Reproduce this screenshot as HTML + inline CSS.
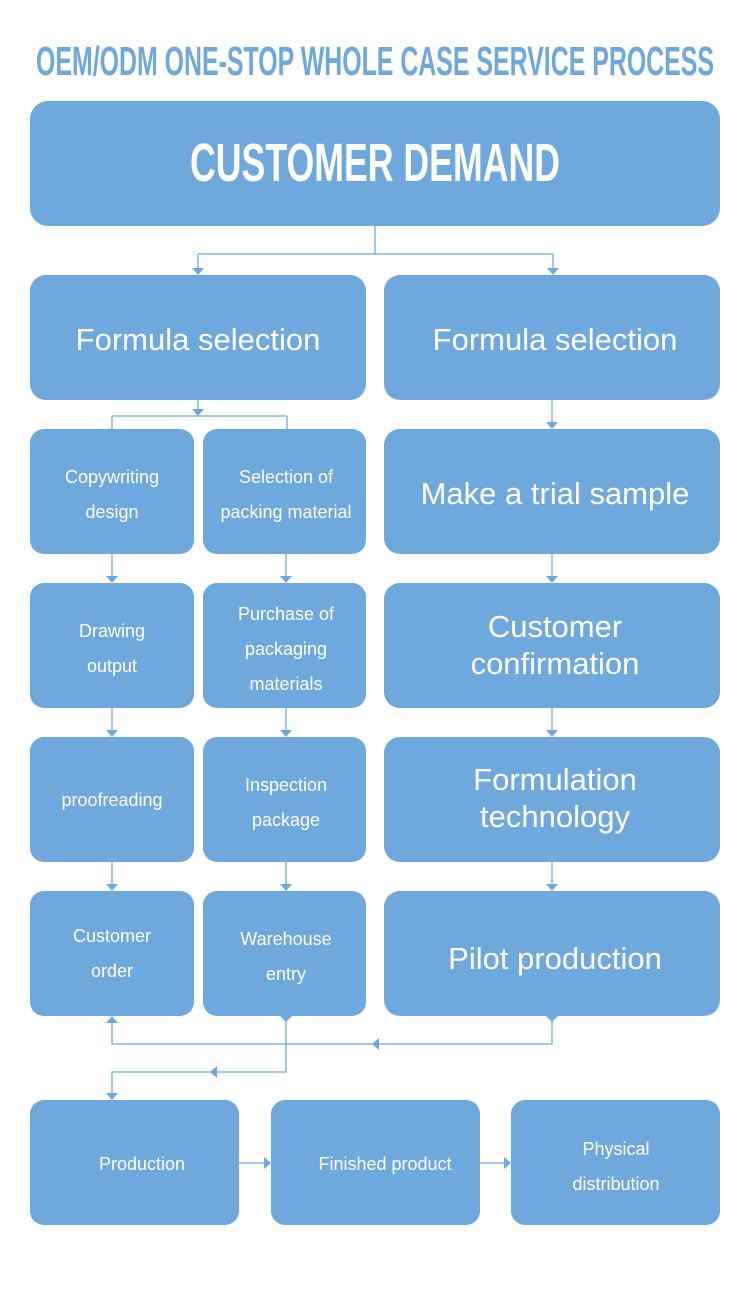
<!DOCTYPE html>
<html><head><meta charset="utf-8"><style>
body{margin:0;background:#fff;}
svg text{fill:#fff;font-family:"Liberation Sans",sans-serif;}
</style></head><body>
<svg width="750" height="1288" viewBox="0 0 750 1288" xmlns="http://www.w3.org/2000/svg">
<rect width="750" height="1288" fill="#fff"/>
<text x="36" y="75" textLength="678" lengthAdjust="spacingAndGlyphs" style="fill:#6fa8dc;font-family:'Liberation Sans Narrow','Liberation Sans',sans-serif;font-weight:bold;font-size:41px">OEM/ODM ONE-STOP WHOLE CASE SERVICE PROCESS</text>
<g fill="#6fa8dc">
<rect x="30" y="101" width="690" height="125" rx="18"/>
<rect x="30" y="275" width="336" height="125" rx="16"/>
<rect x="384" y="275" width="336" height="125" rx="16"/>
<rect x="30" y="429" width="164" height="125" rx="14"/>
<rect x="203" y="429" width="163" height="125" rx="14"/>
<rect x="384" y="429" width="336" height="125" rx="16"/>
<rect x="30" y="583" width="164" height="125" rx="14"/>
<rect x="203" y="583" width="163" height="125" rx="14"/>
<rect x="384" y="583" width="336" height="125" rx="16"/>
<rect x="30" y="737" width="164" height="125" rx="14"/>
<rect x="203" y="737" width="163" height="125" rx="14"/>
<rect x="384" y="737" width="336" height="125" rx="16"/>
<rect x="30" y="891" width="164" height="125" rx="14"/>
<rect x="203" y="891" width="163" height="125" rx="14"/>
<rect x="384" y="891" width="336" height="125" rx="16"/>
<rect x="30" y="1100" width="209" height="125" rx="14"/>
<rect x="271" y="1100" width="209" height="125" rx="14"/>
<rect x="511" y="1100" width="209" height="125" rx="14"/>
</g>
<g stroke="#6fa8dc" stroke-width="1.3" fill="none">
<path d="M375 226V254M198 254H553M198 254V270M553 254V270"/>
<path d="M198 400V412M112 416H287M112 416V429M287 416V429"/>
<path d="M552 400V425M112 554V579M286 554V579M552 554V579M112 708V733M286 708V733M552 708V733M112 862V887M286 862V887M552 862V887"/>
<path d="M552 1016V1044H112V1022M286 1016V1072H112V1095"/>
<path d="M239 1163H266M480 1163H506"/>
</g>
<g fill="#6fa8dc">
<path d="M192 268h12l-6 7z"/><path d="M547 268h12l-6 7z"/>
<path d="M192 409h12l-6 7z"/>
<path d="M546 422h12l-6 7z"/>
<path d="M106 576h12l-6 7z"/><path d="M280 576h12l-6 7z"/><path d="M546 576h12l-6 7z"/>
<path d="M106 730h12l-6 7z"/><path d="M280 730h12l-6 7z"/><path d="M546 730h12l-6 7z"/>
<path d="M106 884h12l-6 7z"/><path d="M280 884h12l-6 7z"/><path d="M546 884h12l-6 7z"/>
<path d="M106 1023h12l-6 -7z"/>
<path d="M280 1016h12l-6 6z"/><path d="M546 1016h12l-6 6z"/>
<path d="M379 1038v12l-7 -6z"/><path d="M217 1066v12l-7 -6z"/>
<path d="M106 1093h12l-6 7z"/>
<path d="M264 1157v12l7 -6z"/><path d="M504 1157v12l7 -6z"/>
</g>
<text x="375" y="181" text-anchor="middle" textLength="370" lengthAdjust="spacingAndGlyphs" style="font-family:'Liberation Sans Narrow','Liberation Sans',sans-serif;font-weight:bold;font-size:54px">CUSTOMER DEMAND</text>
<g font-size="31" text-anchor="middle">
<text x="198" y="350">Formula selection</text>
<text x="555" y="350">Formula selection</text>
<text x="555" y="504">Make a trial sample</text>
<text x="555" y="637">Customer</text><text x="555" y="674">confirmation</text>
<text x="555" y="790">Formulation</text><text x="555" y="827">technology</text>
<text x="555" y="969">Pilot production</text>
</g>
<g font-size="18" text-anchor="middle">
<text x="112" y="483">Copywriting</text><text x="112" y="518">design</text>
<text x="286" y="483">Selection of</text><text x="286" y="518">packing material</text>
<text x="112" y="637">Drawing</text><text x="112" y="672">output</text>
<text x="286" y="620">Purchase of</text><text x="286" y="655">packaging</text><text x="286" y="690">materials</text>
<text x="112" y="806">proofreading</text>
<text x="286" y="791">Inspection</text><text x="286" y="826">package</text>
<text x="112" y="942">Customer</text><text x="112" y="977">order</text>
<text x="286" y="945">Warehouse</text><text x="286" y="980">entry</text>
<text x="142" y="1170">Production</text>
<text x="385" y="1170">Finished product</text>
<text x="616" y="1155">Physical</text><text x="616" y="1190">distribution</text>
</g>
</svg>
</body></html>
